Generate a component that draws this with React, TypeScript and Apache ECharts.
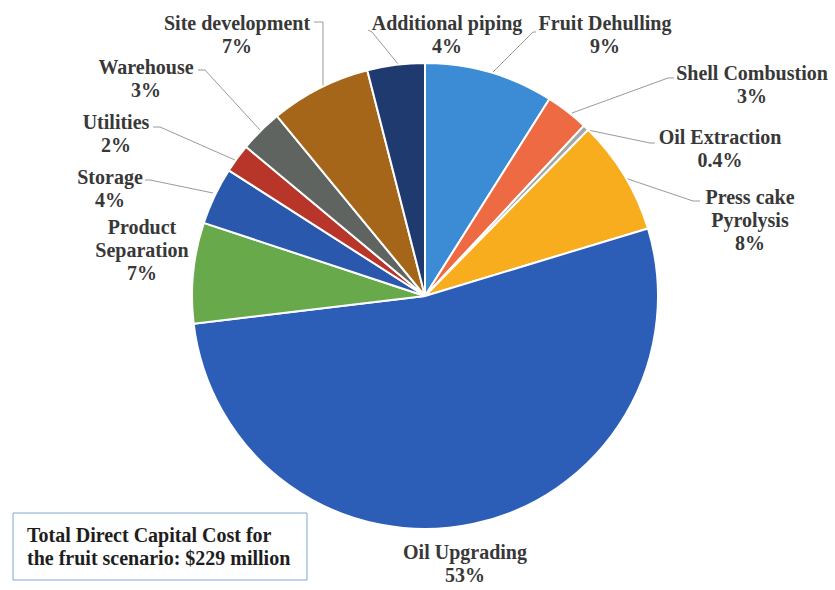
import React, { useEffect, useRef } from "react";
import * as echarts from "echarts";

const categories = [
  "Fruit Dehulling",
  "Shell Combustion",
  "Oil Extraction",
  "Press cake Pyrolysis",
  "Oil Upgrading",
  "Product Separation",
  "Storage",
  "Utilities",
  "Warehouse",
  "Site development",
  "Additional piping",
];
const shares = [9, 3, 0.4, 8, 53, 7, 4, 2, 3, 7, 4];
const displayNames = [
  "Fruit Dehulling",
  "Shell Combustion",
  "Oil Extraction",
  "Press cake\nPyrolysis",
  "Oil Upgrading",
  "Product\nSeparation",
  "Storage",
  "Utilities",
  "Warehouse",
  "Site development",
  "Additional piping",
];
const colors = [
  "#3c8bd5",
  "#ee6a43",
  "#a6a6a6",
  "#f8ad1e",
  "#2c5db7",
  "#68a94c",
  "#2a58ad",
  "#b8352a",
  "#5f6461",
  "#a5661a",
  "#1f3a6e",
];
const boxLines = ["Total Direct Capital Cost for", "the fruit scenario: $229 million"];

// label layout (center of text block) and leader line points
const labelPos: [number, number][] = [
  [605, 34],
  [752, 84],
  [720, 148],
  [750, 220],
  [465, 563],
  [142, 250],
  [110, 188],
  [116, 133],
  [146, 78],
  [237, 34],
  [447, 34],
];
const linePts: ([number, number][] | null)[] = [
  [[493, 72], [533, 32], [536, 32]],
  [[572, 113], [668, 78], [674, 78]],
  [[588, 130], [650, 143], [655, 143]],
  [[625, 178], [693, 201], [700, 201]],
  null,
  null,
  [[213, 193], [150, 180], [145, 180]],
  [[235, 160], [160, 127], [153, 127]],
  [[260, 130], [205, 70], [198, 70]],
  [[323, 90], [323, 22], [314, 22]],
  [[398, 64], [372, 32], [368, 30]],
];

export default function App() {
  const ref = useRef<HTMLDivElement>(null);
  useEffect(() => {
    if (!ref.current) return;
    const chart = echarts.init(ref.current, null, { renderer: "svg" });
    const fontFamily = "Liberation Serif";
    chart.setOption({
      animation: false,
      backgroundColor: "#ffffff",
      textStyle: { fontFamily },
      series: [
        {
          type: "pie",
          center: [425, 296],
          radius: 233,
          startAngle: 90,
          clockwise: true,
          avoidLabelOverlap: false,
          itemStyle: { borderColor: "#ffffff", borderWidth: 2 },
          label: {
            show: true,
            formatter: (p: any) => `${displayNames[p.dataIndex]}\n${p.value}%`,
            fontFamily,
            fontWeight: "bold",
            fontSize: 20,
            lineHeight: 23,
            color: "#383838",
            align: "center",
          },
          labelLine: {
            show: true,
            lineStyle: { color: "#9a9a9a", width: 1 },
          },
          labelLayout: (params: any) => {
            const i = params.dataIndex;
            const pos = labelPos[i];
            const res: any = {
              x: pos[0],
              y: pos[1],
              align: "center",
              verticalAlign: "middle",
            };
            if (linePts[i]) res.labelLinePoints = linePts[i];
            return res;
          },
          data: categories.map((name, i) => ({
            name,
            value: shares[i],
            itemStyle: { color: colors[i] },
            labelLine: { show: linePts[i] !== null },
          })),
        },
      ],
      graphic: [
        {
          type: "rect",
          shape: { x: 13, y: 513, width: 294, height: 67 },
          style: { fill: "#ffffff", stroke: "#7fa8d0", lineWidth: 1 },
        },
        {
          type: "text",
          x: 27,
          y: 535,
          style: {
            text: boxLines[0],
            fontFamily,
            fontWeight: "bold",
            fontSize: 20,
            fill: "#1e1e1e",
            verticalAlign: "middle",
          },
        },
        {
          type: "text",
          x: 27,
          y: 558,
          style: {
            text: boxLines[1],
            fontFamily,
            fontWeight: "bold",
            fontSize: 20,
            fill: "#1e1e1e",
            verticalAlign: "middle",
          },
        },
      ],
    });
    return () => chart.dispose();
  }, []);
  return (
    <div
      ref={ref}
      style={{ position: "fixed", left: 0, top: 0, width: 835, height: 590 }}
    />
  );
}
